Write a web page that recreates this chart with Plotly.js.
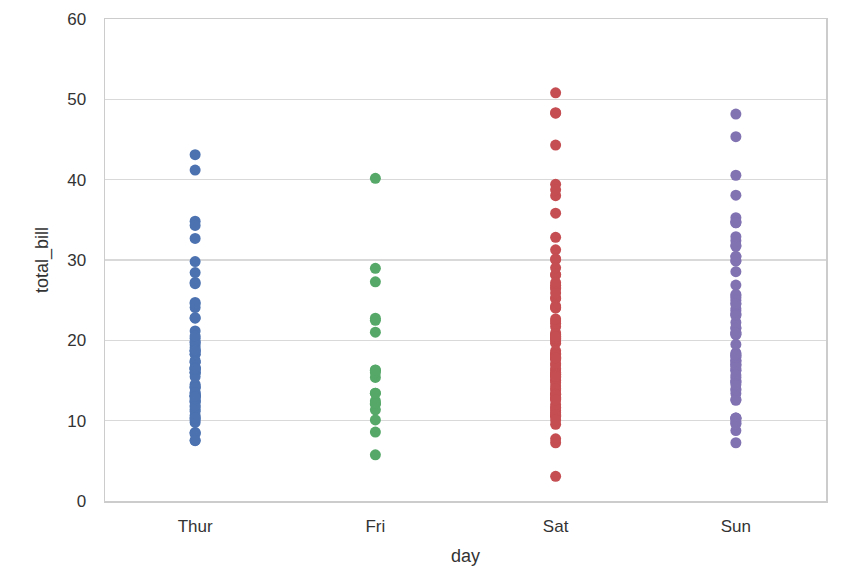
<!DOCTYPE html>
<html>
<head>
<meta charset="utf-8">
<script src="https://cdn.plot.ly/plotly-3.0.1.min.js"></script>
<style>
  html, body { margin: 0; padding: 0; background: #fff; }
  #chart { width: 860px; height: 576px; }
</style>
</head>
<body>
<div id="chart"></div>
<script>
// categories on the x axis
const days = ["Thur", "Fri", "Sat", "Sun"];

// total_bill per day
const thurBills = [27.20, 22.76, 17.29, 19.44, 16.66, 10.07, 32.68, 15.98, 34.83, 13.03, 18.28, 24.71, 21.16,
  10.65, 12.43, 24.08, 11.69, 13.42, 14.26, 15.95, 12.48, 29.80, 8.52, 14.52, 11.38, 22.82, 19.08, 20.27,
  11.17, 12.26, 18.26, 8.51, 10.33, 14.15, 16.00, 13.16, 17.47, 34.30, 41.19, 27.05, 16.43, 8.35, 18.64,
  11.87, 9.78, 7.51, 14.07, 13.13, 17.26, 24.55, 19.77, 19.81, 28.44, 15.48, 16.58, 7.56, 10.34, 43.11,
  13.00, 13.51, 18.71, 12.74, 13.00, 16.40, 20.53, 16.47, 18.78];
const friBills = [28.97, 22.49, 5.75, 16.32, 22.75, 40.17, 27.28, 12.03, 21.01, 12.46, 11.35, 15.38,
  12.16, 13.42, 8.58, 15.98, 13.42, 16.27, 10.09];
const satBills = [20.65, 17.92, 20.29, 15.77, 39.42, 19.82, 17.81, 13.37, 12.69, 21.70, 19.65, 9.55, 18.35,
  15.06, 20.69, 17.78, 24.06, 16.31, 16.93, 18.69, 31.27, 16.04, 38.01, 26.41, 11.24, 48.27, 20.29, 13.81,
  11.02, 18.29, 17.59, 20.08, 16.45, 3.07, 20.23, 15.01, 12.02, 17.07, 26.86, 25.28, 14.73, 10.51, 17.92,
  44.30, 22.42, 20.92, 15.36, 20.49, 25.21, 18.24, 14.31, 14.00, 7.25, 10.59, 10.63, 50.81, 15.81,
  26.59, 38.73, 24.27, 12.76, 30.06, 25.89, 48.33, 13.27, 28.17, 12.90, 28.15, 11.59, 7.74, 30.14,
  20.45, 13.28, 22.12, 24.01, 15.69, 11.61, 10.77, 15.53, 10.07, 12.60, 32.83, 35.83, 29.03, 27.18,
  22.67, 17.82];
const sunBills = [16.99, 10.34, 21.01, 23.68, 24.59, 25.29, 8.77, 26.88, 15.04, 14.78, 10.27, 35.26, 15.42,
  18.43, 14.83, 21.58, 10.33, 16.29, 16.97, 17.46, 13.94, 9.68, 30.40, 18.29, 22.23, 32.40, 28.55, 18.04,
  12.54, 10.29, 34.81, 9.94, 25.56, 19.49, 38.07, 23.95, 25.71, 17.31, 29.93, 29.85, 48.17, 25.00, 13.39,
  16.49, 21.50, 12.66, 16.21, 13.81, 17.51, 24.52, 20.76, 31.71, 7.25, 31.85, 16.82, 32.90, 17.89, 14.48,
  9.60, 34.63, 34.65, 23.33, 45.35, 23.17, 40.55, 20.69, 20.90, 30.46, 18.15, 23.10, 15.69];

const colors = ["#4C72B0", "#55A868", "#C44E52", "#8172B2"];
const yTicks = [0, 10, 20, 30, 40, 50, 60];

const series = [thurBills, friBills, satBills, sunBills];

const traces = series.map((vals, i) => ({
  type: "scatter",
  mode: "markers",
  x: vals.map(() => days[i]),
  y: vals,
  name: days[i],
  marker: { color: colors[i], size: 11, line: { width: 0 } },
  hoverinfo: "x+y"
}));

const layout = {
  width: 860,
  height: 576,
  margin: { l: 105, r: 34, t: 19, b: 75 },
  paper_bgcolor: "#ffffff",
  plot_bgcolor: "#ffffff",
  showlegend: false,
  font: { family: "Liberation Sans, Arial, sans-serif", size: 17, color: "#333333" },
  xaxis: {
    type: "category",
    categoryorder: "array",
    categoryarray: days,
    range: [-0.5, 3.5],
    showgrid: false,
    zeroline: false,
    showline: true,
    mirror: true,
    linecolor: "#cccccc",
    linewidth: 1.5,
    ticks: "",
    ticklabelstandoff: 9,
    tickfont: { size: 17, color: "#333333" },
    title: { text: "day", font: { size: 18, color: "#333333" }, standoff: 14 }
  },
  yaxis: {
    range: [0, 60],
    tickvals: yTicks,
    showgrid: true,
    gridcolor: "#d9d9d9",
    gridwidth: 1.5,
    zeroline: false,
    showline: true,
    mirror: true,
    linecolor: "#cccccc",
    linewidth: 1.5,
    ticks: "",
    ticklabelstandoff: 14,
    tickfont: { size: 17, color: "#333333" },
    title: { text: "total_bill", font: { size: 18, color: "#333333" }, standoff: 14 }
  }
};

Plotly.newPlot("chart", traces, layout, { displayModeBar: false, staticPlot: true });
</script>
</body>
</html>
